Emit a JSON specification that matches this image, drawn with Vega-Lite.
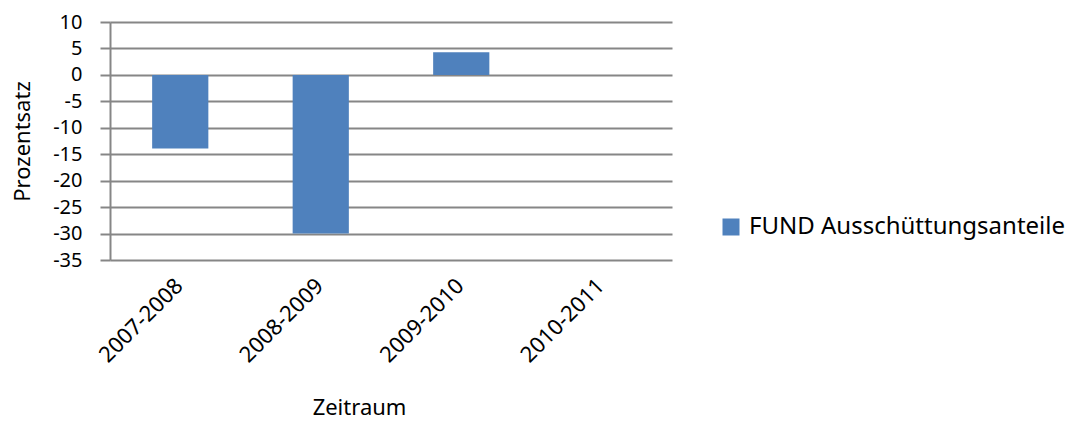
{
  "$schema": "https://vega.github.io/schema/vega-lite/v6.json",
  "width": 562,
  "height": 238,
  "autosize": {"type": "none"},
  "padding": {"left": 110, "top": 22, "right": 400, "bottom": 163},
  "background": "white",
  "config": {
    "view": {"stroke": null},
    "font": "Noto Sans"
  },
  "data": {
    "values": [
      {"Zeitraum": "2007-2008", "Prozentsatz": -13.9, "Serie": "FUND Ausschüttungsanteile"},
      {"Zeitraum": "2008-2009", "Prozentsatz": -30.0, "Serie": "FUND Ausschüttungsanteile"},
      {"Zeitraum": "2009-2010", "Prozentsatz": 4.3, "Serie": "FUND Ausschüttungsanteile"},
      {"Zeitraum": "2010-2011", "Prozentsatz": null, "Serie": "FUND Ausschüttungsanteile"}
    ]
  },
  "mark": {"type": "bar"},
  "encoding": {
    "x": {
      "field": "Zeitraum",
      "type": "nominal",
      "sort": null,
      "scale": {"domain": ["2007-2008", "2008-2009", "2009-2010", "2010-2011"], "paddingInner": 0.6, "paddingOuter": 0.3},
      "axis": {
        "title": "Zeitraum",
        "titleFont": "Noto Sans",
        "titleFontSize": 22,
        "titleFontWeight": "normal",
        "titleColor": "#000000",
        "titleX": 249,
        "titleY": 154,
        "titleAlign": "center",
        "titleBaseline": "alphabetic",
        "labelAngle": -45,
        "labelAlign": "right",
        "labelBaseline": "middle",
        "labelPadding": 22,
        "labelOffset": -1,
        "labelFont": "Noto Sans",
        "labelFontSize": 22,
        "labelColor": "#000000",
        "domain": false,
        "ticks": false,
        "grid": false
      }
    },
    "y": {
      "field": "Prozentsatz",
      "type": "quantitative",
      "scale": {"domain": [-35, 10], "nice": false, "zero": false},
      "axis": {
        "title": "Prozentsatz",
        "titleFont": "Noto Sans",
        "titleFontSize": 22,
        "titleFontWeight": "normal",
        "titleColor": "#000000",
        "titleAngle": -90,
        "titleX": -88,
        "titleY": 119,
        "titleAlign": "center",
        "titleBaseline": "middle",
        "values": [-35, -30, -25, -20, -15, -10, -5, 0, 5, 10],
        "labelExpr": "'' + datum.value",
        "labelFont": "Noto Sans",
        "labelFontSize": 20,
        "labelColor": "#000000",
        "labelPadding": 18,
        "tickSize": 10,
        "tickColor": "#868686",
        "tickWidth": 2,
        "domainColor": "#868686",
        "domainWidth": 2,
        "grid": true,
        "gridColor": "#868686",
        "gridWidth": 2
      }
    },
    "color": {
      "field": "Serie",
      "type": "nominal",
      "scale": {"range": ["#4F81BD"]},
      "legend": {
        "title": null,
        "orient": "none",
        "legendX": 609,
        "legendY": 193,
        "symbolType": "square",
        "symbolSize": 289,
        "symbolStrokeWidth": 0,
        "symbolOpacity": 1,
        "labelFont": "Noto Sans",
        "labelFontSize": 24,
        "labelColor": "#000000",
        "labelOffset": 6,
        "labelLimit": 400
      }
    }
  }
}
